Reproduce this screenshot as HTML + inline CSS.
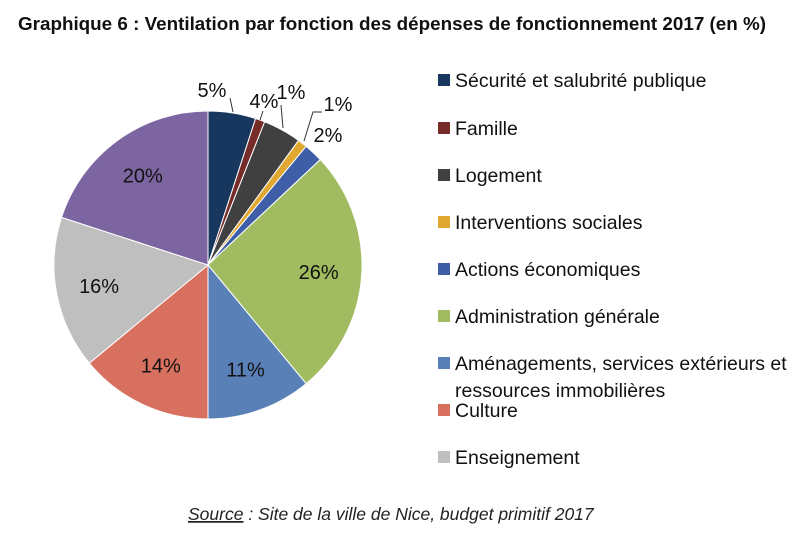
<!DOCTYPE html>
<html><head><meta charset="utf-8"><style>
body{margin:0;background:#fff;width:800px;height:538px;overflow:hidden;font-family:"Liberation Sans",sans-serif}
</style></head><body>
<svg id="chart" width="800" height="538" xmlns="http://www.w3.org/2000/svg">
<text x="18" y="30" font-size="18" font-weight="bold" fill="#111" textLength="748" lengthAdjust="spacingAndGlyphs">Graphique 6 : Ventilation par fonction des dépenses de fonctionnement 2017 (en %)</text>
<g id="slices"></g><g id="labels"></g><g id="legend"></g>
<text x="188" y="520" font-size="17.5" font-style="italic" fill="#222"><tspan text-decoration="underline">Source</tspan> : Site de la ville de Nice, budget primitif 2017</text>
</svg>
<script>
const categories=["Sécurité et salubrité publique","Famille","Logement","Interventions sociales","Actions économiques","Administration générale","Aménagements, services extérieurs et|ressources immobilières","Culture","Enseignement","Autres"];
const values=[5,1,4,1,2,26,11,14,16,20];
const labels=["5%","4%","1%","1%","2%","26%","11%","14%","16%","20%"];
const colors=["#17375e","#772c2a","#404040","#e0a830","#3e5ea8","#a0bb60","#5a80b8","#d87060","#bfbfbf","#7c65a0"];
const NS="http://www.w3.org/2000/svg";
const cx=208,cy=265,r=154;
const total=values.reduce((a,b)=>a+b,0);
const smallPos=[[212,97],[264,108],[291,99],[338,111],[328,142]];
const smallLine=[[230,98,233,112],[263,111,260,120],[281,105,283,128],[322,112,313,112,304,141],null];
let a=-Math.PI/2;
const gS=document.getElementById('slices'),gL=document.getElementById('labels'),gG=document.getElementById('legend');
values.forEach((v,i)=>{
 const a2=a+v/total*2*Math.PI;
 const p=document.createElementNS(NS,'path');
 const x1=cx+r*Math.cos(a),y1=cy+r*Math.sin(a),x2=cx+r*Math.cos(a2),y2=cy+r*Math.sin(a2);
 p.setAttribute('d',`M${cx},${cy}L${x1},${y1}A${r},${r} 0 ${a2-a>Math.PI?1:0} 1 ${x2},${y2}Z`);
 p.setAttribute('fill',colors[i]);p.setAttribute('stroke','#fff');p.setAttribute('stroke-width','1');
 
 
 gS.appendChild(p);
 const m=(a+a2)/2;
 const t=document.createElementNS(NS,'text');
 let tx,ty;
 if(v<6&&i<5){tx=smallPos[i][0];ty=smallPos[i][1];
   if(smallLine[i]){const l=document.createElementNS(NS,'polyline');const s=smallLine[i];
   let pts=[];for(let k=0;k<s.length;k+=2)pts.push(s[k]+','+s[k+1]);
   l.setAttribute('points',pts.join(' '));l.setAttribute('fill','none');l.setAttribute('stroke','#333');
   
   
   gL.appendChild(l);}
 } else {tx=cx+r*0.72*Math.cos(m);ty=cy+r*0.72*Math.sin(m)+7;}
 t.setAttribute('x',tx);t.setAttribute('y',ty);t.setAttribute('text-anchor','middle');t.setAttribute('font-size','20');t.setAttribute('fill','#111');
 t.textContent=labels[i];
 
 
 gL.appendChild(t);
 a=a2;
});
const rowsY=[80,128,175,222,269,316,363,410,457];
for(let i=0;i<9;i++){
 const g=document.createElementNS(NS,'g');
 
 
 const rc=document.createElementNS(NS,'rect');
 rc.setAttribute('x',438);rc.setAttribute('y',rowsY[i]-6);rc.setAttribute('width',12);rc.setAttribute('height',12);rc.setAttribute('fill',colors[i]);
 g.appendChild(rc);
 categories[i].split('|').forEach((ln,k)=>{
  const t=document.createElementNS(NS,'text');
  t.setAttribute('x',455);t.setAttribute('y',rowsY[i]+7+k*27);t.setAttribute('font-size','19.5');t.setAttribute('fill','#111');
  t.textContent=ln;g.appendChild(t);
 });
 gG.appendChild(g);
}
</script>
</body></html>
